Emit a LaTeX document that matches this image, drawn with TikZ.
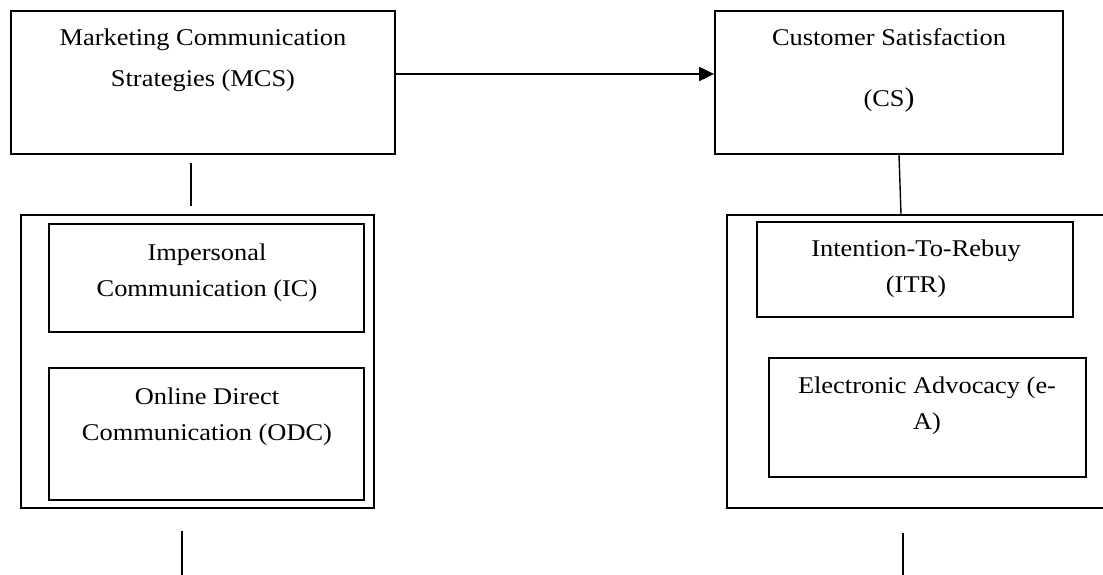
\documentclass[tikz,border=0pt]{standalone}
\usepackage{fontspec}
\setmainfont{Liberation Serif}[FakeStretch=1.1]
\usetikzlibrary{arrows.meta}

\begin{document}
\begin{tikzpicture}[x=1pt,y=-1pt,
  box/.style={draw,line width=1.8pt,inner sep=0pt},
  lbl/.style={align=center,anchor=base,inner sep=0pt,font=\fontsize{24pt}{36pt}\selectfont},
  link/.style={line width=1.4pt}]
\fill[white] (0,0) rectangle (1103,575);
\useasboundingbox (0,0) rectangle (1103,575);
\clip (0,0) rectangle (1103,575);
% Top row: MCS -> CS (labels sit on their last baseline)
\node[box,minimum width=384pt,minimum height=143pt] (mcs) at (203,82.5) {};
\node[lbl] (mcstxt) at (203,87) {Marketing Communication\\[5pt]Strategies (MCS)};
\node[box,minimum width=348pt,minimum height=143pt] (cs) at (889,82.5) {};
\node[lbl] (cstxt) at (889,107) {Customer Satisfaction\\[25pt](CS{\fontsize{27pt}{36pt}\selectfont )}};
\draw[line width=2pt,-{Triangle[length=15pt,width=14pt]}] ([yshift=8.5pt]mcs.east) -- ([yshift=8.5pt]cs.west);
% Left group: dimensions of MCS
\node[box,minimum width=353pt,minimum height=293pt] (grpl) at (197.5,361.5) {};
\node[box,minimum width=315pt,minimum height=108pt] (ic) at (206.5,278) {};
\node[lbl] (ictxt) at (207,296.5) {Impersonal\\Communication (IC)};
\node[box,minimum width=315pt,minimum height=132pt] (odc) at (206.5,434) {};
\node[lbl] (odctxt) at (207,440) {Online Direct\\Communication (ODC)};
% Right group: dimensions of CS
\node[box,minimum width=388pt,minimum height=293pt] (grpr) at (921,361.5) {};
\node[box,minimum width=316pt,minimum height=95pt] (itr) at (915,269.5) {};
\node[lbl] (itrtxt) at (916,292) {Intention-To-Rebuy\\(ITR)};
\node[box,minimum width=317pt,minimum height=119pt] (ea) at (927.5,417.5) {};
\node[lbl] (eatxt) at (927,429) {Electronic Advocacy (e-\\A)};
% Links between levels
\draw[link] ([xshift=-12pt,yshift=-8pt]mcs.south) -- ([xshift=-6.5pt,yshift=8pt]grpl.north);
\draw[link] ([xshift=10pt]cs.south) -- ([xshift=-20pt]grpr.north);
\draw[link] ([xshift=-15.5pt,yshift=-22pt]grpl.south) -- ++(0,50);
\draw[link] ([xshift=-18pt,yshift=-24pt]grpr.south) -- ++(0,50);
\end{tikzpicture}
\end{document}
